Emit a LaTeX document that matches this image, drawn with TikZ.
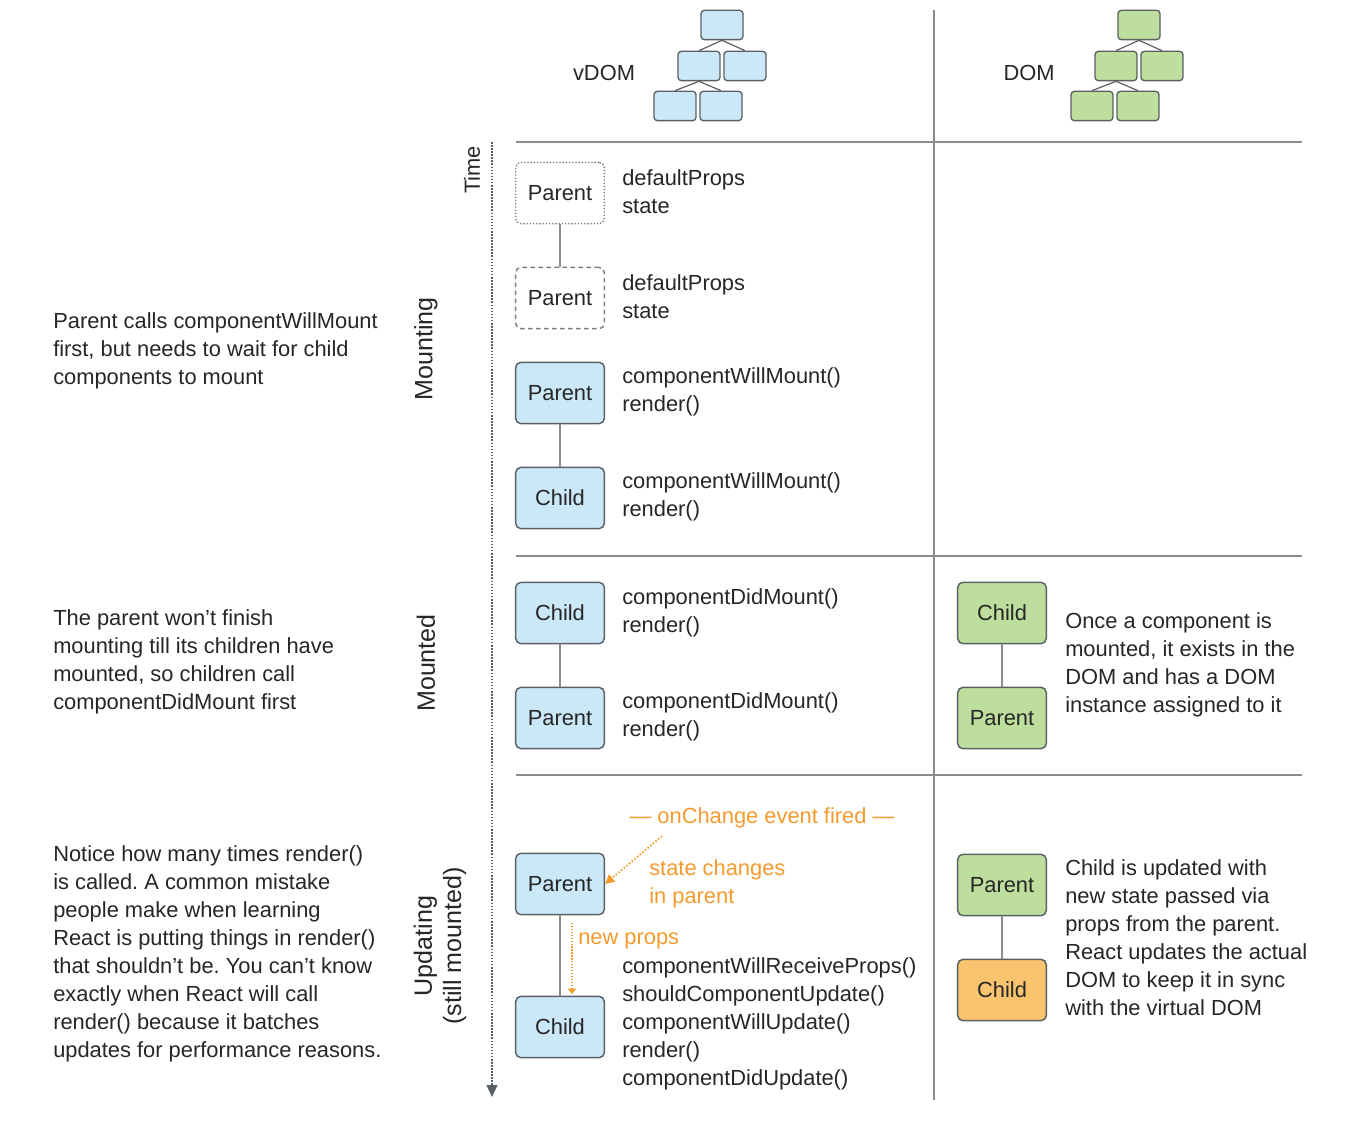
\documentclass[tikz,border=0pt]{standalone}
\usepackage{fontspec}
\setmainfont{Liberation Sans}
\usetikzlibrary{arrows.meta}
\definecolor{vblue}{HTML}{CBE8F8}
\definecolor{dgreen}{HTML}{BEDE9E}
\definecolor{dorange}{HTML}{FAC46E}
\definecolor{edge}{HTML}{5A5F63}
\definecolor{rule}{HTML}{8C8C8C}
\definecolor{ink}{HTML}{262626}
\definecolor{accent}{HTML}{F39A2E}
\tikzset{
  txt/.style={font=\fontsize{16.4}{21}\selectfont, text=ink, inner sep=0pt},
  phase/.style={txt, font=\fontsize{18.8}{22}\selectfont, rotate=90},
  comp/.style={txt, draw=edge, line width=1.1pt, rounded corners=4pt,
    minimum width=66.5pt, minimum height=46pt},
  vcomp/.style={comp, fill=vblue},
  gcomp/.style={comp, fill=dgreen},
  ocomp/.style={comp, fill=dorange},
  ghostdot/.style={comp, draw=edge!80, dash pattern=on 1pt off 1.4pt},
  ghostdash/.style={comp, draw=edge!80, dash pattern=on 3.5pt off 2.5pt},
  link/.style={draw=rule, line width=2.2pt},
  divider/.style={draw=rule, line width=1.5pt},
  note/.style={txt, align=left, anchor=west},
  hint/.style={txt, text=accent},
  treebox/.style={draw=edge, line width=1pt, rounded corners=2.5pt,
    minimum width=31.5pt, minimum height=22pt, inner sep=0pt},
}
\frenchspacing
\begin{document}
\begin{tikzpicture}[x=0.75pt, y=-0.75pt]
\useasboundingbox (0,0) rectangle (1362,1134);

% grid lines
\coordinate (vtop) at (934,10);
\coordinate (vbot) at (934,1100);
\draw[divider, line width=1pt] (vtop) -- (vbot);
\coordinate (h1a) at (516,142); \coordinate (h1b) at (1302,142);
\coordinate (h2a) at (516,556); \coordinate (h2b) at (1302,556);
\coordinate (h3a) at (516,775); \coordinate (h3b) at (1302,775);
\draw[divider, line width=1.8pt] (h1a) -- (h1b);
\draw[divider] (h2a) -- (h2b);
\draw[divider] (h3a) -- (h3b);

% headers with miniature trees
\node[txt] (vdomlbl) at (604,73) {vDOM};
\node[txt] (domlbl) at (1029,73) {DOM};
\foreach \p/\c/\dx in {v/vblue/0, d/dgreen/417} {
  \node[treebox, fill=\c] (\p t0) at (722+\dx,25) {};
  \node[treebox, fill=\c] (\p t1) at (699+\dx,66) {};
  \node[treebox, fill=\c] (\p t2) at (745+\dx,66) {};
  \node[treebox, fill=\c] (\p t3) at (675+\dx,106) {};
  \node[treebox, fill=\c] (\p t4) at (721+\dx,106) {};
  \draw[edge, line width=0.9pt] (\p t0.south) -- (\p t1.north);
  \draw[edge, line width=0.9pt] (\p t0.south) -- (\p t2.north);
  \draw[edge, line width=0.9pt] (\p t1.south) -- (\p t3.north);
  \draw[edge, line width=0.9pt] (\p t1.south) -- (\p t4.north);
}

% time axis
\coordinate (tstart) at (492,142);
\coordinate (tend) at (492,1097);
\draw[draw=edge, line width=1.6pt, dash pattern=on 1.2pt off 1.1pt,
  -{Triangle[length=9pt, width=8pt, sep=0pt]}] (tstart) -- (tend);
\node[txt, rotate=90] (timelbl) at (472,170) {Time};
\node[phase] (mountinglbl) at (426,349) {Mounting};
\node[phase] (mountedlbl) at (426,663) {Mounted};
\node[phase, align=center] (updatinglbl) at (440,946) {Updating\\(still mounted)};

% mounting phase
\node[ghostdot] (p1) at (560,193) {Parent};
\node[ghostdash] (p2) at (560,298) {Parent};
\node[vcomp] (p3) at (560,393) {Parent};
\node[vcomp] (c3) at (560,498) {Child};
\draw[link] (p1) -- (p2);
\draw[link] (p3) -- (c3);
\node[note] (n1) at (622,192) {defaultProps\\state};
\node[note] (n2) at (622,297) {defaultProps\\state};
\node[note] (n3) at (622,392) {componentWillMount()\\render()};
\node[note] (n4) at (622,497) {componentWillMount()\\render()};

% mounted phase
\node[vcomp] (c4) at (560,613) {Child};
\node[vcomp] (p4) at (560,718) {Parent};
\draw[link] (c4) -- (p4);
\node[note] (n5) at (622,613) {componentDidMount()\\render()};
\node[note] (n6) at (622,717) {componentDidMount()\\render()};
\node[gcomp] (dc4) at (1002,613) {Child};
\node[gcomp] (dp4) at (1002,718) {Parent};
\draw[link] (dc4) -- (dp4);
\node[note] (n7) at (1065,665) {Once a component is\\mounted, it exists in the\\DOM and has a DOM\\instance assigned to it};

% updating phase
\node[vcomp] (p5) at (560,884) {Parent};
\node[vcomp] (c5) at (560,1027) {Child};
\draw[link] (p5) -- (c5);
\node[hint] (evt) at (762,818) {— onChange event fired —};
\coordinate (evtfoot) at (662,836);
\draw[accent, line width=1.3pt, dash pattern=on 1.2pt off 1.4pt,
  -{Triangle[length=7pt, width=7pt, sep=0pt]}] (evtfoot) -- (p5.east);
\node[hint, align=left, anchor=west] (stchg) at (649,884) {state changes\\in parent};
\node[hint, anchor=west] (newprops) at (578,941) {new props};
\coordinate (npa) at (572,923);
\coordinate (npb) at (572,994);
\draw[accent, line width=1.2pt, dash pattern=on 1pt off 1.2pt,
  -{Triangle[length=4pt, width=6pt, sep=0pt]}] (npa) -- (npb);
\node[note] (n8) at (622,1024) {componentWillReceiveProps()\\shouldComponentUpdate()\\componentWillUpdate()\\render()\\componentDidUpdate()};
\node[gcomp] (dp5) at (1002,885) {Parent};
\node[ocomp] (dc5) at (1002,990) {Child};
\draw[link] (dp5) -- (dc5);
\node[note] (n9) at (1065,938) {Child is updated with\\new state passed via\\props from the parent.\\React updates the actual\\DOM to keep it in sync\\with the virtual DOM};

% commentary on the left
\node[note] (l1) at (53,351) {Parent calls componentWillMount\\first, but needs to wait for child\\components to mount};
\node[note] (l2) at (53,662) {The parent won't finish\\mounting till its children have\\mounted, so children call\\componentDidMount first};
\node[note] (l3) at (53,954) {Notice how many times render()\\is called. A common mistake\\people make when learning\\React is putting things in render()\\that shouldn't be. You can't know\\exactly when React will call\\render() because it batches\\updates for performance reasons.};
\end{tikzpicture}
\end{document}
